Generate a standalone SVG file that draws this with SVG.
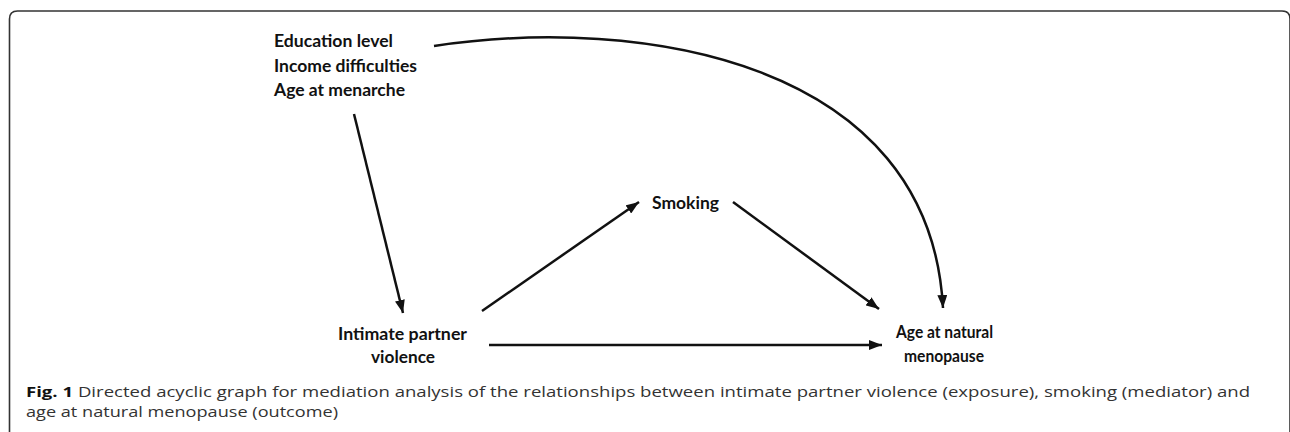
<svg xmlns="http://www.w3.org/2000/svg" width="1290" height="432" viewBox="0 0 1290 432">
<defs>
<marker id="ah" markerUnits="userSpaceOnUse" markerWidth="14" markerHeight="10" refX="13" refY="5" orient="auto">
<path d="M0,0 L13,5 L0,10 z" fill="#111"/>
</marker>
<style>
.lbl{font-family:Lato,"Liberation Sans",sans-serif;font-weight:bold;font-size:16.5px;fill:#111}
.cap{font-family:"Open Sans","Liberation Sans",sans-serif;font-size:15px;fill:#333}
.edge{fill:none;stroke:#111;stroke-width:2.5;marker-end:url(#ah)}
</style>
</defs>
<rect width="1290" height="432" fill="#fff"/>
<path d="M9.5,440 V19 Q9.5,11 17.5,11 H1282 Q1290,11 1290,19 V440" fill="none" stroke="#333" stroke-width="1.6"/>
<g id="connectors">
<path class="edge" d="M354,114 L403,313"/>
<path class="edge" d="M482,311 L639,202"/>
<path class="edge" d="M733,202 L879,309"/>
<path class="edge" d="M489,345 L882,345"/>
<path class="edge" d="M434,46 C640,15 930,60 943,308"/>
</g>
<g id="confounders">
<text class="lbl" x="274" y="47" textLength="119" lengthAdjust="spacingAndGlyphs">Education level</text>
<text class="lbl" x="274" y="71.5" textLength="143" lengthAdjust="spacingAndGlyphs">Income difficulties</text>
<text class="lbl" x="274" y="96" textLength="131" lengthAdjust="spacingAndGlyphs">Age at menarche</text>
</g>
<g id="smoking">
<text class="lbl" x="652" y="209" textLength="67" lengthAdjust="spacingAndGlyphs">Smoking</text>
</g>
<g id="ipv">
<text class="lbl" x="338" y="340" textLength="129" lengthAdjust="spacingAndGlyphs">Intimate partner</text>
<text class="lbl" x="371" y="363" textLength="64" lengthAdjust="spacingAndGlyphs">violence</text>
</g>
<g id="anm">
<text class="lbl" x="896" y="338" textLength="97" lengthAdjust="spacingAndGlyphs">Age at natural</text>
<text class="lbl" x="904" y="362" textLength="80" lengthAdjust="spacingAndGlyphs">menopause</text>
</g>
<g id="caption">
<text class="cap" x="26" y="397" textLength="1224" lengthAdjust="spacingAndGlyphs"><tspan font-weight="bold" fill="#111">Fig. 1</tspan> Directed acyclic graph for mediation analysis of the relationships between intimate partner violence (exposure), smoking (mediator) and</text>
<text class="cap" x="26" y="417" textLength="312" lengthAdjust="spacingAndGlyphs">age at natural menopause (outcome)</text>
</g>
</svg>
